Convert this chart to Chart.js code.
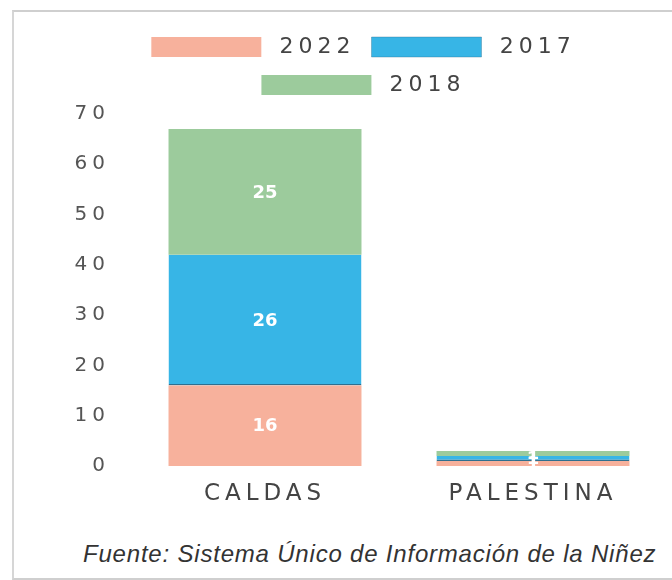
<!DOCTYPE html>
<html>
<head>
<meta charset="utf-8">
<script src="https://cdn.jsdelivr.net/npm/chart.js@4"></script>
<style>
  body { margin: 0; background: #fff; width: 672px; height: 580px; overflow: hidden; position: relative; }
  #frame { position: absolute; left: 12px; top: 10px; width: 720px; height: 566px;
    border-top: 2px solid #cfcfcf; border-left: 2px solid #d6d6d6; border-bottom: 2px solid #cfcfcf; }
  #wrap { position: absolute; left: 40px; top: 0; width: 632px; height: 510px; }
  #note { position: absolute; left: 83px; top: 540px; font: italic 24px "Liberation Sans", Arial, sans-serif;
    letter-spacing: 0.8px; color: #333; white-space: nowrap; }
</style>
</head>
<body>
<div id="frame"></div>
<div id="wrap"><canvas id="chart"></canvas></div>
<div id="note">Fuente: Sistema Único de Información de la Niñez</div>
<script>
const categories = ['CALDAS', 'PALESTINA'];
const years = ['2022', '2017', '2018'];
const values2022 = [16, 1];
const values2017 = [26, 1];
const values2018 = [25, 1];
const yTicks = [0, 10, 20, 30, 40, 50, 60, 70];

const colors = ['#f7b19c', '#37b5e6', '#9ccb9c'];
const FONT = '"DejaVu Sans", "Liberation Sans", sans-serif';

// spaced-out lettering like the original print
const spacing = {
  id: 'spacing',
  beforeUpdate(c) { c.ctx.letterSpacing = '5px'; },
  beforeDraw(c) { c.ctx.letterSpacing = '5px'; },
  beforeLayout(c) {
    const lg = c.legend;
    if (lg && !lg._extra) {
      const fit = lg.fit.bind(lg);
      lg.fit = function () { fit(); this.height += 8; };
      lg._extra = true;
    }
  }
};

const valueLabels = {
  id: 'valueLabels',
  afterDatasetsDraw(c) {
    const ctx = c.ctx;
    ctx.save();
    ctx.letterSpacing = '0px';
    ctx.fillStyle = '#ffffff';
    ctx.font = 'bold 18px ' + FONT;
    ctx.textAlign = 'center';
    ctx.textBaseline = 'middle';
    c.data.datasets.forEach((ds, i) => {
      c.getDatasetMeta(i).data.forEach((bar, j) => {
        ctx.fillText(ds.data[j], bar.x, (bar.y + bar.base) / 2 + 1);
      });
    });
    ctx.restore();
  }
};

new Chart(document.getElementById('chart'), {
  type: 'bar',
  data: {
    labels: categories,
    datasets: [
      { label: years[0], data: values2022, backgroundColor: colors[0], borderWidth: 0 },
      { label: years[1], data: values2017, backgroundColor: colors[1],
        borderColor: '#2f6f8f', borderSkipped: false, borderWidth: { top: 0, left: 0, right: 0, bottom: 1.5 } },
      { label: years[2], data: values2018, backgroundColor: colors[2], borderWidth: 0 }
    ]
  },
  options: {
    responsive: true,
    maintainAspectRatio: false,
    animation: false,
    barPercentage: 0.8,
    categoryPercentage: 0.9,
    layout: { padding: { top: 20, right: 5, left: 20, bottom: 0 } },
    plugins: {
      legend: {
        position: 'top',
        labels: {
          boxWidth: 110,
          boxHeight: 20,
          padding: 16,
          color: '#444',
          font: { family: FONT, size: 22 },
          generateLabels(chart) {
            return Chart.defaults.plugins.legend.labels.generateLabels(chart)
              .map(item => ({ ...item, text: '\u200A' + item.text }));
          }
        }
      },
      tooltip: { enabled: false }
    },
    scales: {
      x: {
        stacked: true,
        grid: { display: false, drawTicks: false },
        border: { display: false },
        ticks: { color: '#444', padding: 14, font: { family: FONT, size: 23 } },
        afterFit(s) { s.height = 44; }
      },
      y: {
        stacked: true,
        min: 0,
        max: 70,
        grid: { display: false, drawTicks: false },
        border: { display: false },
        afterBuildTicks(s) { s.ticks = yTicks.map(v => ({ value: v })); },
        ticks: { color: '#555', padding: 21, font: { family: FONT, size: 20 } },
        afterFit(s) { s.width = 71; }
      }
    }
  },
  plugins: [spacing, valueLabels]
});
</script>
</body>
</html>
